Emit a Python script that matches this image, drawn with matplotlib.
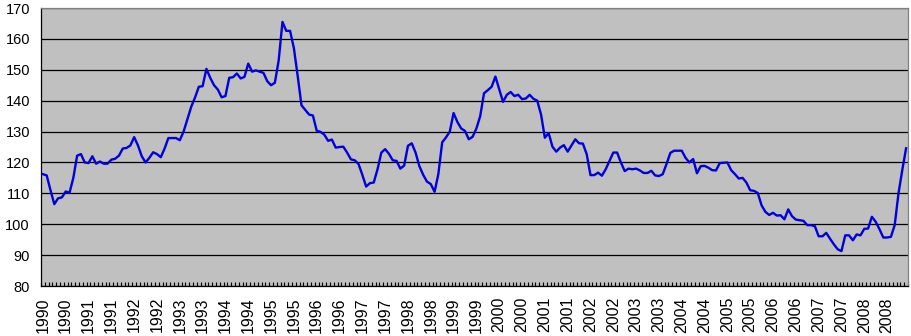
import numpy as np
import matplotlib
matplotlib.use("Agg")
import matplotlib.pyplot as plt

# Monthly index values, Jan 1990 .. Dec 2008
y1990 = [116.2, 115.8, 111.0, 106.5, 108.4, 108.7, 110.6, 110.2, 115.0, 122.2, 122.7, 120.0]
y1991 = [119.8, 122.0, 119.6, 120.3, 119.6, 119.6, 120.9, 121.2, 122.2, 124.5, 124.7, 125.5]
y1992 = [128.2, 125.5, 122.0, 120.0, 121.5, 123.3, 122.7, 121.7, 124.5, 127.9, 127.9, 127.9]
y1993 = [127.2, 130.0, 134.0, 138.0, 141.0, 144.5, 144.7, 150.3, 147.4, 145.0, 143.6, 141.1]
y1994 = [141.5, 147.4, 147.6, 148.8, 147.2, 147.7, 152.0, 149.4, 149.8, 149.4, 149.0, 146.3]
y1995 = [145.0, 145.8, 153.0, 165.5, 162.6, 162.6, 157.0, 148.0, 138.5, 137.0, 135.5, 135.2]
y1996 = [130.3, 129.9, 129.0, 127.0, 127.4, 124.8, 125.0, 125.1, 123.2, 121.0, 120.7, 119.5]
y1997 = [116.0, 112.2, 113.3, 113.5, 117.8, 123.2, 124.3, 122.8, 120.7, 120.5, 118.0, 119.0]
y1998 = [125.4, 126.2, 123.2, 118.8, 116.0, 113.8, 113.0, 110.5, 116.3, 126.5, 128.1, 130.0]
y1999 = [136.0, 133.1, 131.0, 130.2, 127.5, 128.3, 131.0, 135.0, 142.4, 143.4, 144.5, 147.8]
y2000 = [143.7, 139.6, 141.9, 142.8, 141.5, 141.9, 140.5, 140.7, 141.9, 140.6, 140.0, 135.5]
y2001 = [128.0, 129.5, 125.1, 123.5, 124.8, 125.6, 123.5, 125.5, 127.5, 126.2, 126.1, 122.7]
y2002 = [115.9, 115.9, 116.7, 115.7, 117.8, 120.5, 123.2, 123.2, 120.0, 117.2, 118.0, 117.8]
y2003 = [118.0, 117.4, 116.6, 116.6, 117.3, 115.8, 115.6, 116.2, 119.5, 123.1, 123.8, 123.8]
y2004 = [123.8, 121.5, 120.0, 121.1, 116.5, 118.8, 118.9, 118.3, 117.5, 117.4, 119.8, 119.9]
y2005 = [120.0, 117.5, 116.2, 114.8, 115.0, 113.5, 111.0, 110.8, 110.1, 106.1, 104.0, 103.0]
y2006 = [103.7, 102.8, 102.9, 101.6, 104.8, 102.6, 101.5, 101.3, 101.1, 99.7, 99.7, 99.4]
y2007 = [96.1, 96.1, 97.2, 95.3, 93.5, 91.9, 91.3, 96.4, 96.4, 94.8, 96.7, 96.4]
y2008 = [98.5, 98.6, 102.4, 100.8, 98.4, 95.7, 95.7, 95.9, 99.7, 110.0, 117.6, 124.6]

years = list(range(1990, 2009))
values = (y1990 + y1991 + y1992 + y1993 + y1994 + y1995 + y1996 + y1997 + y1998
          + y1999 + y2000 + y2001 + y2002 + y2003 + y2004 + y2005 + y2006 + y2007 + y2008)
# label every six months, same year shown twice
tick_labels = [str(y) for y in years for _ in range(2)]

fig = plt.figure(figsize=(9.12, 3.36), dpi=100)
ax = fig.add_axes([41 / 912, 1 - 286 / 336, 867 / 912, 278 / 336])
ax.set_facecolor("#c0c0c0")

x = np.arange(len(values))
ax.plot(x, values, color="#0000e0", linewidth=1.7, zorder=3)

ax.set_xlim(-0.5, len(values) - 0.5)
ax.set_ylim(80, 170)
ax.set_yticks(np.arange(80, 171, 10))
ax.yaxis.grid(True, color="black", linewidth=0.9)
ax.set_axisbelow(True)

# labels under every 6th month, monthly tick marks between categories
ax.set_xticks(np.arange(0, len(values), 6))
ax.set_xticklabels(tick_labels, rotation=90, family="Liberation Sans", fontsize=11.5)
ax.set_xticks(np.arange(len(values) + 1) - 0.5, minor=True)
ax.tick_params(axis="x", which="major", length=0, pad=8)
ax.tick_params(axis="x", which="minor", direction="in", length=3, width=0.8, color="black")
ax.tick_params(axis="y", length=0, pad=8, labelsize=10.5)
for lab in ax.get_yticklabels():
    lab.set_family("Liberation Sans")

ax.spines["left"].set_color("black")
ax.spines["bottom"].set_color("black")
ax.spines["top"].set_color("#808080")
ax.spines["right"].set_color("#808080")
for s in ax.spines.values():
    s.set_linewidth(0.9)

fig.savefig("out.png", dpi=100)
